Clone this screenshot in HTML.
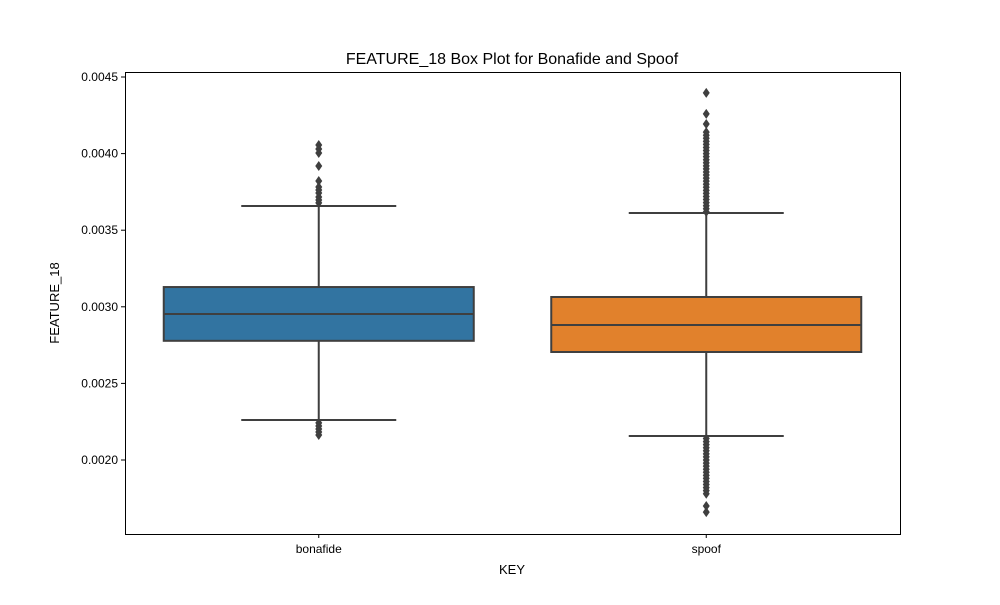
<!DOCTYPE html>
<html><head><meta charset="utf-8"><style>
body{margin:0;background:#fff;font-family:"Liberation Sans","DejaVu Sans",sans-serif}
</style></head><body>
<svg id="c" width="1000" height="600" xmlns="http://www.w3.org/2000/svg" font-family="Liberation Sans, DejaVu Sans, sans-serif">
<rect width="1000" height="600" fill="#fff"/>
<text x="512" y="64" text-anchor="middle" font-size="16">FEATURE_18 Box Plot for Bonafide and Spoof</text>
<text x="512" y="574" text-anchor="middle" font-size="13">KEY</text>
<text transform="translate(59,303) rotate(-90)" text-anchor="middle" font-size="13">FEATURE_18</text>
<g id="plot"></g>
<rect x="125.5" y="72.5" width="775" height="462" fill="none" stroke="#000" stroke-width="1"/>
</svg>
<script>
const categories=["bonafide","spoof"];
const colors=["#3274a1","#e1812c"];
const q1=[0.002778,0.002705];
const medians=[0.002953,0.002881];
const q3=[0.003129,0.003064];
const whiskLo=[0.002261,0.002157];
const whiskHi=[0.003658,0.003612];
const outliersBona=[0.004056,0.00403,0.004004,0.003919,0.003821,0.003782,0.003762,0.003743,0.003717,0.003697,0.003678,0.002242,0.002222,0.002202,0.002183,0.002163];
const outliersSpoof=[0.004396,0.004259,0.004193,0.00414,0.00412,0.0041,0.00408,0.00406,0.00404,0.00402,0.004,0.00398,0.00396,0.00394,0.00392,0.0039,0.00388,0.00386,0.00384,0.00382,0.0038,0.00378,0.00376,0.00374,0.00372,0.0037,0.00368,0.00366,0.00364,0.00362,
0.00214,0.00212,0.0021,0.00208,0.00206,0.00204,0.00202,0.002,0.00198,0.00196,0.00194,0.00192,0.0019,0.00188,0.00186,0.00184,0.00182,0.0018,0.00178,0.0017,0.00166];
const yTicks=[0.002,0.0025,0.003,0.0035,0.004,0.0045];
const yTickLabels=["0.0020","0.0025","0.0030","0.0035","0.0040","0.0045"];
const L=125,R=900,T=72,B=534;
const y=v=>460-(v-0.002)/0.0005*76.6;
const xC=i=>L+(R-L)*(i+0.5)/categories.length;
const bw=(R-L)/categories.length*0.8;
const g=document.getElementById('plot');
const NS="http://www.w3.org/2000/svg";
function mk(t,a){const e=document.createElementNS(NS,t);for(const k in a)e.setAttribute(k,a[k]);g.appendChild(e);return e;}
yTicks.forEach((v,i)=>{
 const l=mk('line',{x1:L-4,x2:L,y1:y(v),y2:y(v),stroke:'#000'});
 
 
 const t=mk('text',{x:L-7,y:y(v)+4,'text-anchor':'end','font-size':12});
 t.textContent=yTickLabels[i];
 
 
});
const outs=[outliersBona,outliersSpoof];
categories.forEach((c,i)=>{
 const cx=xC(i),st='#3f3f3f';
 const w1=mk('line',{x1:cx,x2:cx,y1:y(q3[i]),y2:y(whiskHi[i]),stroke:st,'stroke-width':2});
 
 
 const w2=mk('line',{x1:cx,x2:cx,y1:y(q1[i]),y2:y(whiskLo[i]),stroke:st,'stroke-width':2});
 
 
 [whiskHi[i],whiskLo[i]].forEach(v=>{
  const cap=mk('line',{x1:cx-bw/4,x2:cx+bw/4,y1:y(v),y2:y(v),stroke:st,'stroke-width':2});
  
  
 });
 const b=mk('rect',{x:cx-bw/2,y:y(q3[i]),width:bw,height:y(q1[i])-y(q3[i]),fill:colors[i],stroke:st,'stroke-width':2});
 
 
 const m=mk('line',{x1:cx-bw/2,x2:cx+bw/2,y1:y(medians[i]),y2:y(medians[i]),stroke:st,'stroke-width':2});
 
 
 outs[i].forEach(v=>{
  const yy=y(v);
  const p=mk('polygon',{points:`${cx},${yy-5} ${cx+3.5},${yy} ${cx},${yy+5} ${cx-3.5},${yy}`,fill:st});
  
  
 });
 const tk=mk('line',{x1:cx,x2:cx,y1:B,y2:B+4,stroke:'#000'});
 
 
 const t=mk('text',{x:cx,y:B+19,'text-anchor':'middle','font-size':12});
 t.textContent=c;
 
 
});
</script>
</body></html>
